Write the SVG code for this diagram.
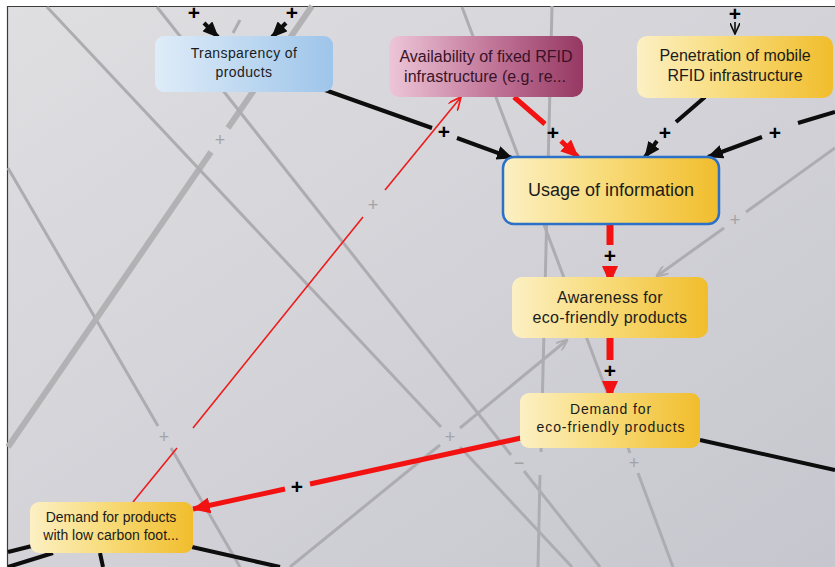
<svg xmlns="http://www.w3.org/2000/svg" width="835" height="567" viewBox="0 0 835 567">
<style>
.g{stroke:#adadb1;stroke-width:3;fill:none;stroke-linecap:butt}
.gt{stroke:#b2b2b5;stroke-width:6;fill:none}
.k{stroke:#0d0d0d;stroke-width:4;fill:none}
.r{stroke:#f21212;stroke-width:5;fill:none}
.rv{stroke:#f21212;stroke-width:7;fill:none}
.rt{stroke:#ee1c1c;stroke-width:1.6;fill:none}
.pl{font-family:"Liberation Sans",Arial,sans-serif;font-weight:bold;font-size:21px;fill:#000;text-anchor:middle}
.gp{font-family:"Liberation Sans",Arial,sans-serif;font-size:18px;fill:#a3a3a7;text-anchor:middle}
.t{font-family:"Liberation Sans",Arial,sans-serif;fill:#1b1b1b;text-anchor:middle}
.nb{stroke:none}
</style>
<defs>
<linearGradient id="bg" x1="0" y1="0" x2="1" y2="1">
<stop offset="0" stop-color="#dfdfe2"/><stop offset="1" stop-color="#c6c6ce"/>
</linearGradient>
<linearGradient id="yel" x1="0" y1="0" x2="1" y2="0">
<stop offset="0" stop-color="#fcf0c4"/><stop offset="0.45" stop-color="#f8dc7c"/><stop offset="1" stop-color="#f1bd2c"/>
</linearGradient>
<linearGradient id="blu" x1="0" y1="0" x2="1" y2="0">
<stop offset="0" stop-color="#dfecf8"/><stop offset="1" stop-color="#9ec5ea"/>
</linearGradient>
<linearGradient id="pnk" x1="0" y1="0" x2="1" y2="0">
<stop offset="0" stop-color="#edc6d8"/><stop offset="0.5" stop-color="#c47a9c"/><stop offset="1" stop-color="#963862"/>
</linearGradient>
<marker id="ak" markerUnits="userSpaceOnUse" markerWidth="16" markerHeight="14" refX="15" refY="7" orient="auto">
<path d="M0,0 L16,7 L0,14 z" fill="#0d0d0d"/>
</marker>
<marker id="ar" markerUnits="userSpaceOnUse" markerWidth="18" markerHeight="16" refX="17" refY="8" orient="auto">
<path d="M0,0 L18,8 L0,16 z" fill="#f21212"/>
</marker>
<marker id="ag" markerUnits="userSpaceOnUse" markerWidth="12" markerHeight="10" refX="11" refY="5" orient="auto">
<path d="M0,0 L12,5 L0,10" fill="none" stroke="#adadb1" stroke-width="2"/>
</marker>
<marker id="art" markerUnits="userSpaceOnUse" markerWidth="14" markerHeight="12" refX="13" refY="6" orient="auto">
<path d="M0,0 L13,6 L0,12" fill="none" stroke="#ee1c1c" stroke-width="1.8"/>
</marker>
<marker id="akt" markerUnits="userSpaceOnUse" markerWidth="12" markerHeight="10" refX="11" refY="5" orient="auto">
<path d="M0,0 L11,5 L0,10" fill="none" stroke="#0d0d0d" stroke-width="1.6"/>
</marker>
</defs>

<rect x="0" y="0" width="835" height="567" fill="#ffffff"/>
<rect x="8" y="7" width="827" height="560" fill="url(#bg)"/>
<path d="M7.5,6 V567 M7,6.5 H835" stroke="#3c3c3c" stroke-width="1.2" fill="none"/>

<g id="connectors">
<!-- faded background links -->
<g id="faded">
<path class="g" d="M8,168 L158,426 M171,448 L240,567"/>
<path class="gt" d="M312,6 L228,128 M211,152 L8,447"/>
<path class="g" d="M47,7 L441,427 M460,447 L572,567"/>
<path class="g" d="M157,7 L511,455 M524,471 L600,567"/>
<path class="g" d="M462,7 L630,453 M638,473 L673,567"/>
<path class="g" d="M552,6 L541,452 M540,475 L538,567"/>
<path class="g" d="M835,148 L746,212"/>
<path class="g" d="M724,228 L657,276" marker-end="url(#ag)"/>
<path class="g" d="M290,567 L440,445"/>
<path class="g" d="M460,428 L567,340" marker-end="url(#ag)"/>
<path class="g" d="M240,20 L233,33"/>
<text class="gp" x="164" y="443">+</text>
<text class="gp" x="220" y="146">+</text>
<text class="gp" x="450" y="443">+</text>
<text class="gp" x="519" y="469">−</text>
<text class="gp" x="634" y="469">+</text>
<text class="gp" x="735" y="226">+</text>
<text class="gp" x="373" y="211">+</text>
</g>

<!-- active links -->
<path class="k" d="M325,90 L432,128"/>
<path class="k" d="M457,138 L512,158" marker-end="url(#ak)"/>
<text class="pl" x="444" y="139">+</text>

<path class="r" d="M514,97 L545,124"/>
<path class="r" d="M561,141 L578,157" marker-end="url(#ar)"/>
<text class="pl" x="553" y="140">+</text>

<path class="k" d="M705,97 L676,122"/>
<path class="k" d="M657,141 L645,157" marker-end="url(#ak)"/>
<text class="pl" x="665" y="140">+</text>

<path class="k" d="M835,112 L798,123"/>
<path class="k" d="M762,137 L708,157" marker-end="url(#ak)"/>
<text class="pl" x="775" y="140">+</text>

<path stroke="#0d0d0d" stroke-width="1.6" fill="none" d="M735,22 L735,34" marker-end="url(#akt)"/>
<text class="pl" x="735" y="21">+</text>

<path class="k" stroke-width="5" d="M204,23 L218,37" marker-end="url(#ak)"/>
<text class="pl" x="194" y="20">+</text>
<path class="k" stroke-width="5" d="M286,23 L272,37" marker-end="url(#ak)"/>
<text class="pl" x="292" y="20">+</text>

<path class="rv" d="M610,225 L610,245"/>
<path class="rv" d="M610,266 L610,283" marker-end="url(#ar)"/>
<text class="pl" x="610" y="263">+</text>

<path class="rv" d="M610,338 L610,360"/>
<path class="rv" d="M610,381 L610,398" marker-end="url(#ar)"/>
<text class="pl" x="610" y="378">+</text>

<path class="r" d="M521,438 L310,484"/>
<path class="r" d="M285,489 L193,509" marker-end="url(#ar)"/>
<text class="pl" x="297" y="494">+</text>

<path class="rt" d="M133,502 L177,448 M193,428 L363,217"/>
<path class="rt" d="M385,190 L461,97" marker-end="url(#art)"/>

<path class="k" d="M700,440 L835,470"/>
<path class="k" d="M8,552 L32,546 M8,567 L53,553 M100,553 L103,567 M192,547 L280,567"/>
</g>

<g id="transparency">
<rect x="155" y="36" width="178" height="56" rx="9" fill="url(#blu)"/>
<text class="t" x="244" y="58" font-size="14" letter-spacing="0.4">Transparency of</text>
<text class="t" x="244" y="77" font-size="14" letter-spacing="0.4">products</text>
</g>

<g id="availability">
<rect x="389" y="36" width="194" height="61" rx="10" fill="url(#pnk)"/>
<text class="t" x="486" y="62" font-size="16" fill="#3a1228" style="fill:#3a1228">Availability of fixed RFID</text>
<text class="t" x="485" y="82" font-size="16" style="fill:#3a1228">infrastructure (e.g. re...</text>
</g>

<g id="penetration">
<rect x="637" y="36" width="196" height="62" rx="10" fill="url(#yel)"/>
<text class="t" x="735" y="61" font-size="16">Penetration of mobile</text>
<text class="t" x="735" y="81" font-size="16">RFID infrastructure</text>
</g>

<g id="usage">
<rect x="503" y="157" width="216" height="67" rx="11" fill="url(#yel)" stroke="#2c70c8" stroke-width="2.5"/>
<text class="t" x="611" y="196" font-size="18">Usage of information</text>
</g>

<g id="awareness">
<rect x="512" y="277" width="196" height="61" rx="10" fill="url(#yel)"/>
<text class="t" x="610" y="303" font-size="16" letter-spacing="0.3">Awareness for</text>
<text class="t" x="610" y="323" font-size="16" letter-spacing="0.3">eco-friendly products</text>
</g>

<g id="demand-eco">
<rect x="520" y="393" width="180" height="55" rx="9" fill="url(#yel)"/>
<text class="t" x="611" y="414" font-size="14" letter-spacing="0.9">Demand for</text>
<text class="t" x="611" y="432" font-size="14" letter-spacing="0.9">eco-friendly products</text>
</g>

<g id="demand-low-carbon">
<rect x="30" y="502" width="163" height="51" rx="9" fill="url(#yel)"/>
<text class="t" x="111" y="522" font-size="14">Demand for products</text>
<text class="t" x="111" y="540" font-size="14">with low carbon foot...</text>
</g>
</svg>
